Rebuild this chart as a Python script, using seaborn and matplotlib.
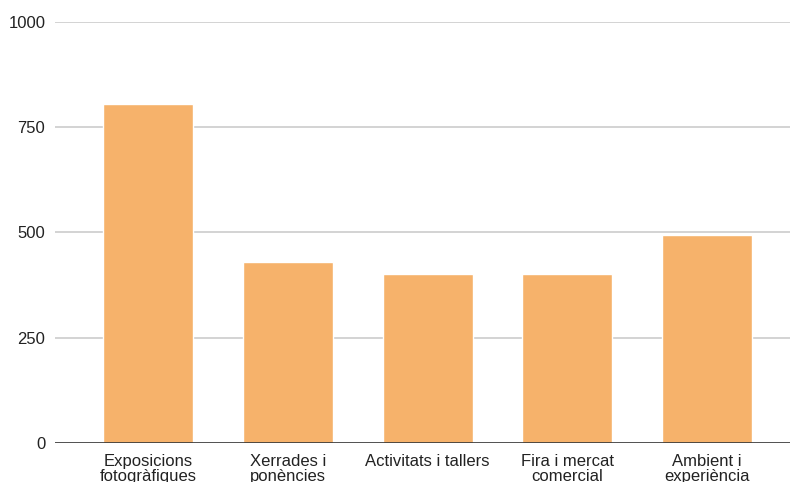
import matplotlib
matplotlib.use("Agg")
import matplotlib.pyplot as plt
import seaborn as sns
import pandas as pd

categories = [
    "Exposicions\nfotogràfiques",
    "Xerrades i\nponències",
    "Activitats i tallers",
    "Fira i mercat\ncomercial",
    "Ambient i\nexperiència",
]
values = [805, 430, 400, 400, 494]
y_ticks = [0, 250, 500, 750, 1000]

sns.set_theme(style="white")
plt.rcParams["font.family"] = ["Liberation Sans", "DejaVu Sans"]

df = pd.DataFrame({"categoria": categories, "valor": values})

fig = plt.figure(figsize=(7.9, 4.82), dpi=100)
ax = fig.add_axes([55 / 790, (482 - 442.7) / 482, 735 / 790, (442.7 - 22) / 482])

sns.barplot(data=df, x="categoria", y="valor", color="#F6B26B", saturation=1,
            width=0.644, ax=ax, zorder=3)

ax.set_xlim(-0.668, 4.593)
ax.set_ylim(0, 1000)
ax.set_yticks(y_ticks)
ax.set_yticklabels([str(t) for t in y_ticks])
ax.set_xlabel("")
ax.set_ylabel("")

for t in y_ticks[1:]:
    ax.axhline(t, color="#cccccc", linewidth=1.2, zorder=1)
ax.axhline(0, color="#333333", linewidth=1.2, zorder=4)

for s in ax.spines.values():
    s.set_visible(False)

ax.tick_params(axis="both", length=0, labelsize=12, colors="#222222")
ax.tick_params(axis="y", pad=7)
ax.tick_params(axis="x", pad=8)
for lbl in ax.get_xticklabels():
    lbl.set_linespacing(1.03)

fig.savefig("out.png", dpi=100)
